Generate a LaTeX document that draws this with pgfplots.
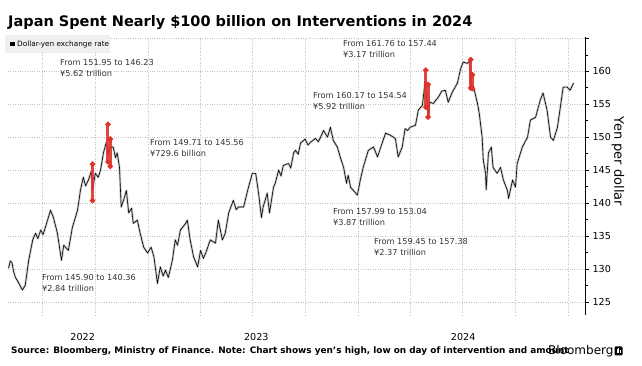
\documentclass[border=0pt]{standalone}
\usepackage{fontspec}
\setmainfont{DejaVu Sans}
\usepackage{pgfplots}
\usepackage{pgfplotstable}
\pgfplotsset{compat=1.18}
\usetikzlibrary{calc}
\definecolor{intred}{HTML}{E0312B}
\definecolor{gridgray}{HTML}{C4C4C4}
\pgfplotstableread{
d v
122 130.1
125 131.2
128 130.9
131 129.5
134 128.7
140 127.8
146 126.8
151 127.5
157 131.3
164 134.4
169 135.4
173 134.6
178 135.9
182 135.2
186 136.3
195 138.9
200 137.8
207 135.4
214 131.3
218 133.6
221 133.3
226 132.8
233 136.3
242 138.9
247 141.9
252 143.9
256 142.6
261 143.5
266 144.8
268 142.0
273 144.5
278 143.9
282 145.0
287 147.6
292 149.2
295 147.5
299 148.5
304 148.5
308 146.9
311 147.6
315 145.4
318 139.4
322 140.4
327 141.9
331 138.5
336 139.2
339 136.9
346 137.4
351 135.4
357 133.3
364 132.4
370 133.3
375 131.8
381 127.8
386 130.3
391 128.9
395 129.8
400 128.7
407 131.3
412 134.4
416 133.6
421 135.9
430 136.9
433 137.4
438 134.4
444 131.8
451 130.3
456 132.8
461 131.6
465 132.4
473 134.4
482 133.9
487 137.4
494 134.4
499 135.4
505 138.5
513 140.4
518 139.0
522 139.4
531 139.4
538 141.9
546 144.5
552 144.5
557 141.5
562 137.8
565 139.4
572 141.5
576 138.5
583 142.4
586 143.0
592 145.0
596 144.1
600 145.7
609 146.0
613 145.3
618 147.6
621 148.0
626 147.4
630 149.1
638 149.7
643 148.8
647 149.2
656 149.8
661 149.3
665 150.0
670 151.0
677 150.0
682 151.5
687 149.5
694 148.5
699 147.0
705 145.4
710 143.0
713 144.2
717 142.4
722 141.9
729 141.2
734 143.5
739 145.4
748 148.0
757 148.5
764 147.0
772 149.1
778 150.6
786 150.3
795 149.8
800 147.0
807 148.5
812 151.3
816 151.0
821 151.5
830 151.8
835 154.1
842 154.8
847 158.5
849 156.3
852 153.5
855 155.3
861 155.1
870 156.1
876 157.0
882 157.1
887 155.3
894 156.8
903 158.2
908 160.2
913 161.4
920 161.2
924 161.5
927 158.0
931 157.6
938 155.1
941 153.6
946 150.0
948 146.5
952 144.5
953 142.0
957 147.6
962 148.5
965 145.4
972 144.5
978 145.4
983 143.5
990 141.9
992 140.7
999 143.5
1004 142.4
1007 146.0
1016 148.5
1025 150.0
1030 152.6
1039 153.0
1047 155.6
1052 156.7
1059 154.1
1065 150.0
1070 149.5
1077 151.5
1082 154.5
1087 157.6
1094 157.6
1099 157.1
1105 158.2
}\usdjpy
\begin{document}
\begin{tikzpicture}
\begin{axis}[
  scale only axis,
  width=577pt, height=278pt,
  xmin=121, xmax=1125, ymin=123, ymax=165.2,
  axis x line=bottom, axis y line=right,
  x axis line style={draw=none,-},
  y axis line style={-,black,line width=0.6pt},
  xtick={251,553,913}, xticklabels={2022,2023,2024},
  major x tick style={draw=none},
  minor xtick={181,273,365,455,546,638,730,821,912,1004,1096},
  minor x tick style={draw=none},
  xminorgrids, minor x grid style={gridgray, dotted, line width=0.5pt},
  ytick={125,130,...,165}, yticklabels={125,130,135,140,145,150,155,160,},
  minor ytick={127.5,132.5,...,162.5},
  ymajorgrids, major y grid style={gridgray, dotted, line width=0.5pt},
  y tick style={black, line width=0.5pt},
  ytick align=outside, major tick length=4pt, minor tick length=2.5pt,
  tick label style={font=\fontsize{9.6}{11}\selectfont},
  xticklabel style={yshift=-13pt},
  /pgf/number format/assume math mode=true,
  clip=false,
]
\coordinate (SW) at (rel axis cs:0,0);
\addplot[gray!45, line width=2.2pt, line join=round] table[x=d,y=v] {\usdjpy};
\addplot[black, line width=0.6pt, line join=round] table[x=d,y=v] {\usdjpy};
\addplot[intred, line width=3pt, opacity=0.9, mark=*, mark size=0.9pt, mark options={fill=intred!35, draw=none, opacity=1}] coordinates {(268,145.90) (268,140.36)};
\addplot[intred, line width=3pt, opacity=0.9, mark=*, mark size=0.9pt, mark options={fill=intred!35, draw=none, opacity=1}] coordinates {(295,151.95) (295,146.23)};
\addplot[intred, line width=3pt, opacity=0.9, mark=*, mark size=0.9pt, mark options={fill=intred!35, draw=none, opacity=1}] coordinates {(299,149.71) (299,145.56)};
\addplot[intred, line width=3pt, opacity=0.9, mark=*, mark size=0.9pt, mark options={fill=intred!35, draw=none, opacity=1}] coordinates {(848,160.17) (848,154.54)};
\addplot[intred, line width=3pt, opacity=0.9, mark=*, mark size=0.9pt, mark options={fill=intred!35, draw=none, opacity=1}] coordinates {(852,157.99) (852,153.04)};
\addplot[intred, line width=3pt, opacity=0.9, mark=*, mark size=0.9pt, mark options={fill=intred!35, draw=none, opacity=1}] coordinates {(926,161.76) (926,157.44)};
\addplot[intred, line width=3pt, opacity=0.9, mark=*, mark size=0.9pt, mark options={fill=intred!35, draw=none, opacity=1}] coordinates {(929,159.45) (929,157.38)};
\end{axis}
\begin{scope}[shift={($(SW)+(-8pt,-51pt)$)}, x=1pt, y=1pt]
% title
\node[anchor=base west, inner sep=0, font=\fontsize{14.5}{17}\bfseries] at (8,339) {Japan Spent Nearly \$100 billion on Interventions in 2024};
% legend
\fill[gray!12] (5,313) rectangle (110,331);
\fill[black] (10,319.5) rectangle (14.5,324);
\node[anchor=west, inner sep=0, font=\fontsize{7.3}{9}\selectfont] at (17,321.8) {Dollar-yen exchange rate};
% annotations
\tikzset{ann/.style={anchor=west, inner sep=0, align=left, font=\fontsize{8.2}{11}\selectfont, text=black!80}}
\node[ann] at (60,297.5) {From 151.95 to 146.23\\¥5.62 trillion};
\node[ann] at (150,217.7) {From 149.71 to 145.56\\¥729.6 billion};
\node[ann] at (42,83) {From 145.90 to 140.36\\¥2.84 trillion};
\node[ann] at (343,317) {From 161.76 to 157.44\\¥3.17 trillion};
\node[ann] at (313,264.7) {From 160.17 to 154.54\\¥5.92 trillion};
\node[ann] at (333,149) {From 157.99 to 153.04\\¥3.87 trillion};
\node[ann] at (374,119) {From 159.45 to 157.38\\¥2.37 trillion};
% y label
\node[rotate=-90, inner sep=0, font=\fontsize{13}{15}\selectfont] at (618,204.5) {Yen per dollar};
% footer
\node[anchor=base west, inner sep=0, font=\fontsize{8.9}{10}\bfseries] at (11,12) {Source: Bloomberg, Ministry of Finance. Note: Chart shows yen's high, low on day of intervention and amount};
\node[anchor=base west, inner sep=0, font=\fontsize{12}{14}\selectfont] at (548,11.5) {Bloomberg};
\fill[black, rounded corners=1.2pt] (614.5,10.5) rectangle (622.5,19.5);
\fill[white] (616.6,13) rectangle (617.4,16.5);
\fill[white] (618.2,13) rectangle (619,18);
\fill[white] (619.8,13) rectangle (620.6,15.5);
\pgfresetboundingbox
\path[use as bounding box] (0,0) rectangle (642,366);
\end{scope}
\end{tikzpicture}
\end{document}
